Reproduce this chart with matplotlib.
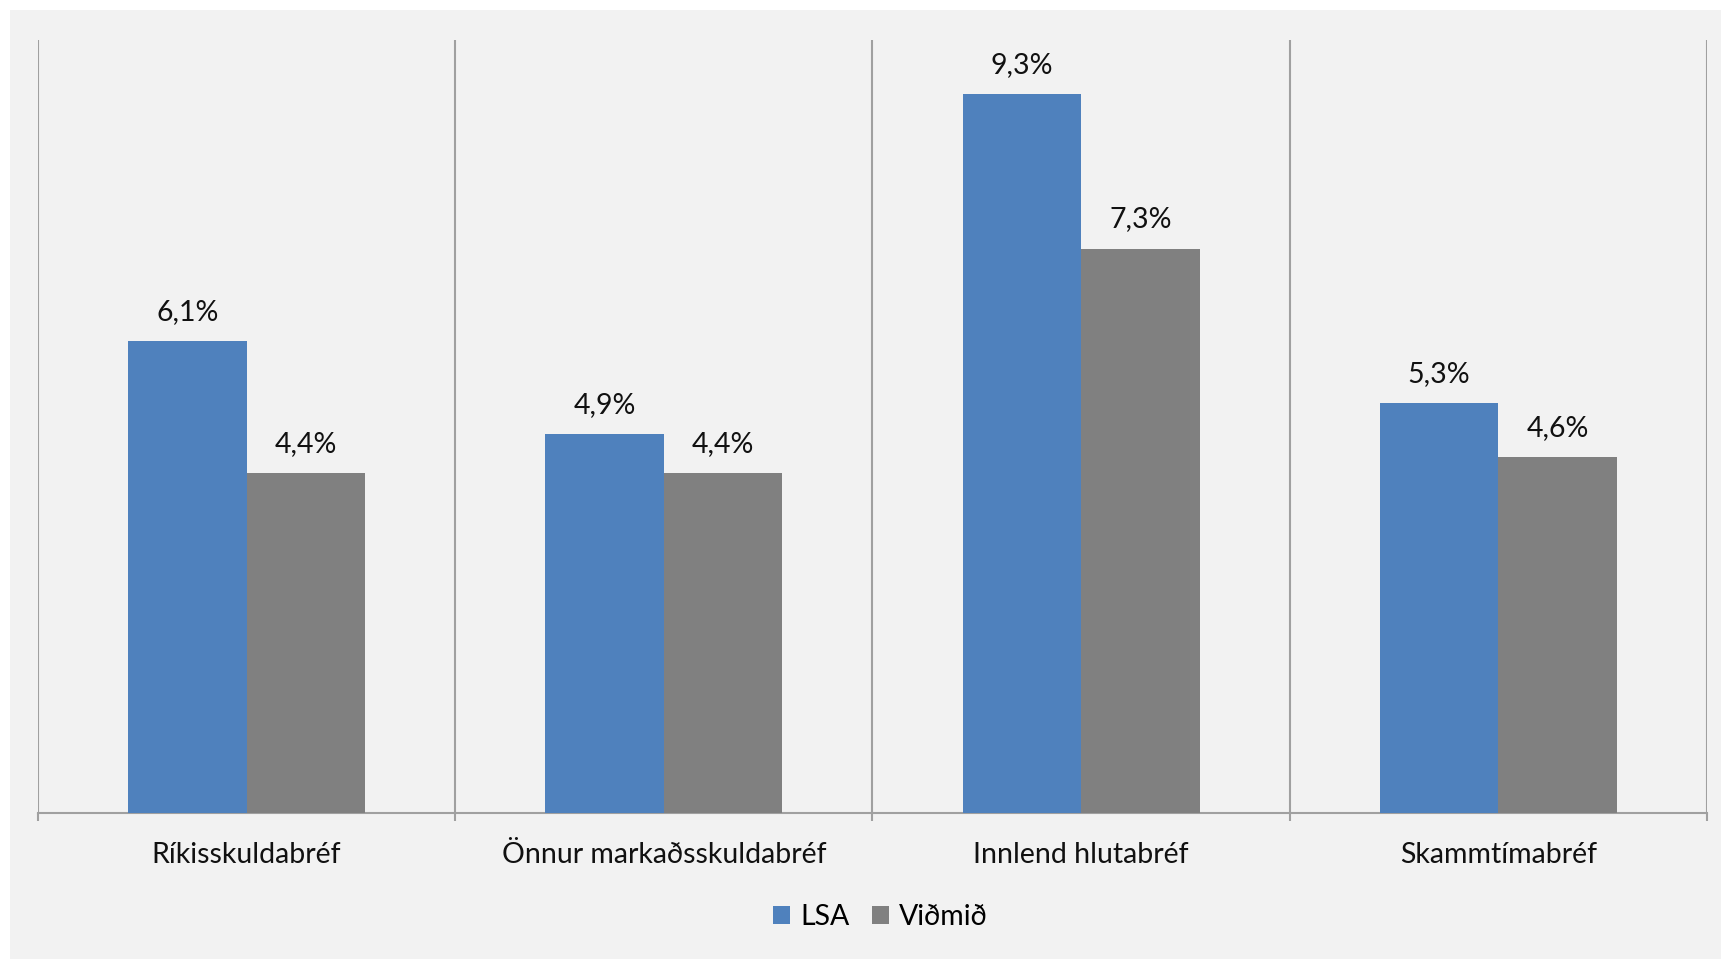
import matplotlib
matplotlib.use("Agg")
import matplotlib.pyplot as plt
from matplotlib.patches import Rectangle
import numpy as np

categories = ["Ríkisskuldabréf", "Önnur markaðsskuldabréf", "Innlend hlutabréf", "Skammtímabréf"]
lsa = [6.1, 4.9, 9.3, 5.3]
vidmid = [4.4, 4.4, 7.3, 4.6]
series_names = ["LSA", "Viðmið"]
colors = ["#4F81BD", "#808080"]

plt.rcParams['font.family'] = ['Lato', 'DejaVu Sans']
FS = 20.5

fig = plt.figure(figsize=(17.21, 9.59), dpi=100)
fig.patch.set_facecolor("white")
fig.patches.append(Rectangle((10/1721, 0), 1, 1 - 10/959, transform=fig.transFigure,
                             facecolor="#f2f2f2", edgecolor="none", zorder=-10))

ax = fig.add_axes([38/1721, 1 - 813/959, (1707 - 38)/1721, (813 - 40)/959])
ax.set_facecolor("none")

x = np.arange(len(categories))
w = 0.284
b1 = ax.bar(x - w/2, lsa, w, color=colors[0], label=series_names[0], zorder=3)
b2 = ax.bar(x + w/2, vidmid, w, color=colors[1], label=series_names[1], zorder=3)

for bars, vals in ((b1, lsa), (b2, vidmid)):
    for r, v in zip(bars, vals):
        ax.annotate(f"{v:.1f}%".replace(".", ","), (r.get_x() + r.get_width()/2, v),
                    xytext=(0, 21), textcoords="offset points", ha="center", va="center",
                    fontsize=FS, color="#111111")

ax.set_xlim(-0.5, len(categories) - 0.5)
ax.set_ylim(0, 10)
ax.set_yticks([])
for s in ["top", "right", "left"]:
    ax.spines[s].set_visible(False)
ax.spines["bottom"].set_color("#a0a0a0")
ax.spines["bottom"].set_linewidth(1.5)

bounds = np.arange(-0.5, len(categories), 1.0)
for b in bounds:
    ax.axvline(b, color="#a0a0a0", lw=1.5, zorder=1)
ax.set_xticks(bounds, minor=True)
ax.tick_params(axis="x", which="minor", length=6, width=1.5, color="#a0a0a0", direction="out")
ax.set_xticks(x)
ax.set_xticklabels(categories, fontsize=FS, color="#111111")
ax.tick_params(axis="x", which="major", length=0, pad=21)

fig.legend(handles=[b1, b2], labels=series_names, loc="center", bbox_to_anchor=(0.5115, 1 - 917/959),
           ncol=2, frameon=False, fontsize=FS, handlelength=0.6, handleheight=0.6,
           handletextpad=0.35, columnspacing=0.8)

fig.savefig("out.png", dpi=100, facecolor=fig.get_facecolor())
